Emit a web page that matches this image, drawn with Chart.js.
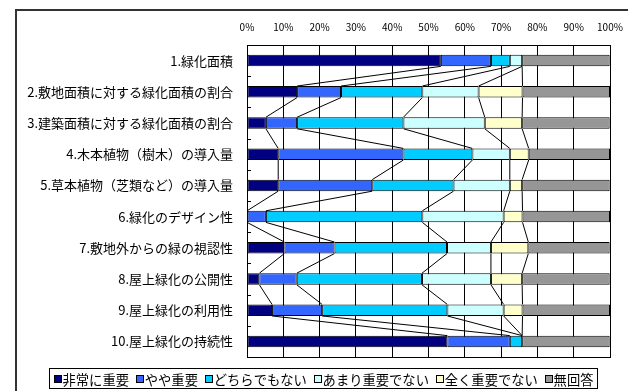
<!DOCTYPE html>
<html lang="ja">
<head>
<meta charset="utf-8">
<title>緑化評価項目の重要度</title>
<script src="https://cdn.jsdelivr.net/npm/chart.js@4.4.1/dist/chart.umd.min.js"></script>
<style>
  html, body { margin: 0; padding: 0; background: #fff; }
  #wrap { width: 628px; height: 391px; position: relative; }
</style>
</head>
<body>
<div id="wrap"><canvas id="chart" width="628" height="391"></canvas></div>
<script>
// 評価項目
const categories = [
    '1.緑化面積',
    '2.敷地面積に対する緑化面積の割合',
    '3.建築面積に対する緑化面積の割合',
    '4.木本植物（樹木）の導入量',
    '5.草本植物（芝類など）の導入量',
    '6.緑化のデザイン性',
    '7.敷地外からの緑の視認性',
    '8.屋上緑化の公開性',
    '9.屋上緑化の利用性',
    '10.屋上緑化の持続性'
];

// 回答の割合（%）
const hijouniJuyou   = [53.4, 13.8,  5.2,  8.6,  8.6,  0.0, 10.3,  3.4,  6.9, 55.2];
const yayaJuyou      = [13.8, 12.1,  8.6, 34.5, 25.9,  5.2, 13.8, 10.3, 13.8, 17.2];
const dochiraDemo    = [ 5.2, 22.4, 29.3, 19.0, 22.4, 43.1, 31.0, 34.5, 34.5,  3.4];
const amariJuyouDe   = [ 3.4, 15.5, 22.4, 10.3, 15.5, 22.4, 12.1, 19.0, 15.5,  0.0];
const mattakuJuyouDe = [ 0.0, 12.1, 10.3,  5.2,  3.4,  5.2, 10.3,  8.6,  5.2,  0.0];
const mukaitou       = [24.1, 24.1, 24.1, 22.4, 24.1, 24.1, 22.4, 24.1, 24.1, 24.1];

const seriesNames = ['非常に重要', 'やや重要', 'どちらでもない', 'あまり重要でない', '全く重要でない', '無回答'];
const seriesData = [hijouniJuyou, yayaJuyou, dochiraDemo, amariJuyouDe, mattakuJuyouDe, mukaitou];
const seriesColors = ['#000080', '#3366FF', '#00CCFF', '#CCFFFF', '#FFFFCC', '#969696'];

// x軸の目盛り
const xTicks = [0, 10, 20, 30, 40, 50, 60, 70, 80, 90, 100];

const jpFont = '"Noto Sans CJK JP", "Noto Sans", sans-serif';

// 外枠・系列線・凡例を描くプラグイン
const excelStyle = {
    id: 'excelStyle',
    beforeDraw(chart) {
        const ctx = chart.ctx;
        ctx.save();
        ctx.strokeStyle = '#333';
        ctx.lineWidth = 2;
        ctx.strokeRect(16, 10, 700, 500);
        ctx.restore();
    },
    afterDatasetsDraw(chart) {
        const ctx = chart.ctx;
        const area = chart.chartArea;
        ctx.save();

        // 系列線（最後の系列は100%なので省略）
        ctx.strokeStyle = '#000';
        ctx.lineWidth = 1;
        for (let d = 0; d < seriesData.length - 1; d++) {
            const bars = chart.getDatasetMeta(d).data;
            for (let i = 0; i < bars.length - 1; i++) {
                const a = bars[i], b = bars[i + 1];
                ctx.beginPath();
                ctx.moveTo(a.x, a.y + a.height / 2);
                ctx.lineTo(b.x, b.y - b.height / 2);
                ctx.stroke();
            }
        }

        // 内向きの目盛り（項目の境界）
        const step = (area.bottom - area.top) / categories.length;
        for (let i = 1; i < categories.length; i++) {
            const y = Math.round(area.top + step * i) + 0.5;
            ctx.beginPath();
            ctx.moveTo(area.left, y);
            ctx.lineTo(area.left + 4, y);
            ctx.stroke();
        }

        // プロットエリアの枠
        ctx.strokeRect(Math.round(area.left) + 0.5, Math.round(area.top) + 0.5,
            Math.round(area.right - area.left), Math.round(area.bottom - area.top));

        // 凡例（枠の幅に合わせて並べる）
        const boxL = 49.5, boxT = 368.5, boxW = 548, boxH = 20;
        const box = 7, gapText = 2, pad = 4;
        let size = 13.3, widths, used;
        do {
            ctx.font = size + 'px ' + jpFont;
            widths = seriesNames.map(n => ctx.measureText(n).width);
            used = widths.reduce((s, w) => s + w + box + gapText, 0);
            size -= 0.2;
        } while (used > boxW - 2 * pad - 5 * 3);
        const gapItem = (boxW - 2 * pad - used) / (seriesNames.length - 1);
        ctx.textBaseline = 'middle';
        ctx.fillStyle = '#fff';
        ctx.fillRect(boxL, boxT, boxW, boxH);
        ctx.strokeRect(boxL, boxT, boxW, boxH);
        let x = boxL + pad;
        const cy = boxT + boxH / 2;
        seriesNames.forEach((name, i) => {
            const sx = Math.round(x) + 0.5, sy = Math.round(cy - 4) + 0.5;
            ctx.fillStyle = seriesColors[i];
            ctx.fillRect(sx, sy, box, box);
            ctx.strokeRect(sx, sy, box, box);
            x += box + gapText;
            ctx.fillStyle = '#000';
            ctx.fillText(name, x, cy + 1);
            x += widths[i] + gapItem;
        });
        ctx.restore();
    }
};

const ctx = document.getElementById('chart').getContext('2d');
new Chart(ctx, {
    type: 'bar',
    data: {
        labels: categories,
        datasets: seriesNames.map((name, i) => ({
            label: name,
            data: seriesData[i],
            backgroundColor: seriesColors[i],
            borderColor: '#000',
            borderWidth: 1,
            borderSkipped: false,
            barPercentage: 0.37,
            categoryPercentage: 1
        }))
    },
    options: {
        indexAxis: 'y',
        responsive: false,
        animation: false,
        layout: { padding: { left: 20, top: 12, right: 18, bottom: 34 } },
        plugins: {
            legend: { display: false },
            tooltip: { enabled: false }
        },
        scales: {
            x: {
                position: 'top',
                stacked: true,
                min: 0,
                max: 100,
                afterBuildTicks(scale) {
                    scale.ticks = xTicks.map(v => ({ value: v }));
                },
                afterFit(scale) {
                    scale.height = 33;
                    scale.paddingLeft = 0;
                    scale.paddingRight = 0;
                },
                grid: { color: '#000', drawTicks: false, lineWidth: 1 },
                border: { display: false },
                ticks: {
                    padding: 12,
                    color: '#000',
                    font: { size: 10, family: jpFont },
                    callback: v => v + '%'
                }
            },
            y: {
                stacked: true,
                afterFit(scale) {
                    scale.width = 227;
                    scale.paddingTop = 0;
                    scale.paddingBottom = 0;
                },
                grid: { display: false },
                border: { display: false },
                ticks: {
                    padding: 6,
                    color: '#000',
                    font: { size: 13, family: jpFont }
                }
            }
        }
    },
    plugins: [excelStyle]
});
</script>
</body>
</html>
